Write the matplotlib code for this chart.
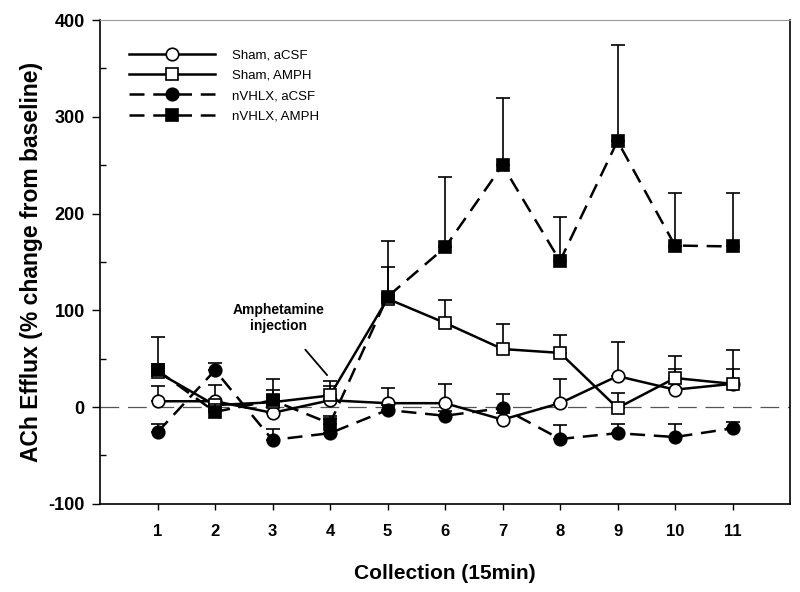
import numpy as np
import matplotlib
matplotlib.use("Agg")
import matplotlib.pyplot as plt

plt.rcParams['font.family'] = ['Liberation Sans', 'DejaVu Sans']
plt.rcParams['axes.unicode_minus'] = False

# collection number (15 min each)
x = np.arange(1, 12)

# mean values (% change from baseline) and top of the upper error bar
sham_acsf = [6, 6, -6, 7, 4, 4, -13, 4, 32, 18, 24]
sham_acsf_top = [22, 23, 12, 22, 20, 24, -6, 29, 67, 39, 39]

sham_amph = [36, 2, 5, 12, 112, 87, 60, 56, -1, 30, 24]
sham_amph_top = [45, 4, 18, 27, 145, 111, 86, 75, 15, 53, 59]

nvhlx_acsf = [-26, 38, -34, -27, -3, -9, -1, -33, -27, -31, -22]
nvhlx_acsf_top = [-17, 46, -23, -12, 2, -4, 13, -19, -18, -18, -15]

nvhlx_amph = [38, -5, 7, -17, 114, 165, 250, 151, 275, 167, 166]
nvhlx_amph_top = [72, 3, 29, -9, 172, 238, 319, 196, 374, 221, 221]

dash = (0, (6, 3.5))
series = [
    ("Sham, aCSF", sham_acsf, sham_acsf_top, 'o', 'white', '-'),
    ("Sham, AMPH", sham_amph, sham_amph_top, 's', 'white', '-'),
    ("nVHLX, aCSF", nvhlx_acsf, nvhlx_acsf_top, 'o', 'black', dash),
    ("nVHLX, AMPH", nvhlx_amph, nvhlx_amph_top, 's', 'black', dash),
]

fig = plt.figure(figsize=(8, 5.92), dpi=100)
ax = fig.add_axes([0.125, 0.149, 0.8625, 0.817])

# baseline
ax.axhline(0, color='#555555', linewidth=0.9, linestyle=(0, (15, 7)), zorder=1)

z = 2
for name, mean, top, mk, face, ls in series:
    mean = np.array(mean, dtype=float)
    top = np.array(top, dtype=float)
    err = np.clip(top - mean, 0, None)
    ax.errorbar(x, mean, yerr=[np.zeros_like(err), err], fmt='none',
                ecolor='black', elinewidth=1.2, capsize=5, capthick=1.2,
                zorder=z)
    ax.plot(x, mean, color='black', linewidth=1.8, linestyle=ls,
            marker=mk, markersize=9 if mk == 'o' else 8.5,
            markerfacecolor=face, markeredgecolor='black',
            markeredgewidth=1.2, label=name, zorder=z + 0.5)
    z += 1

ax.set_xlim(0, 12)
ax.set_ylim(-100, 400)
ax.set_xticks(x)
ax.set_yticks([-100, 0, 100, 200, 300, 400])
ax.set_yticks(np.arange(-50, 400, 100), minor=True)
ax.tick_params(axis='x', which='major', direction='out', length=4.5,
               width=1, labelsize=12, pad=10)
ax.tick_params(axis='y', which='major', direction='out', length=6,
               width=1, labelsize=13, pad=5)
ax.tick_params(axis='y', which='minor', direction='in', length=4, width=1)
for lab in ax.get_xticklabels() + ax.get_yticklabels():
    lab.set_fontweight('bold')
for side in ['left', 'bottom', 'right']:
    ax.spines[side].set_linewidth(1.2)
ax.spines['top'].set_color('#999999')

ax.set_xlabel("Collection (15min)", fontsize=15, fontweight='bold', labelpad=18)
ax.set_ylabel("ACh Efflux (% change from baseline)", fontsize=16.5,
              fontweight='bold', labelpad=4)

ax.annotate("Amphetamine\ninjection", xy=(3.95, 33), xytext=(3.1, 92),
            ha='center', va='center', fontsize=10, fontweight='bold',
            arrowprops=dict(arrowstyle='-', color='black', linewidth=1.3,
                            shrinkA=13, shrinkB=0))

ax.legend(loc='upper left', bbox_to_anchor=(0.025, 0.965), frameon=False,
          fontsize=9.5, handlelength=6.5, handletextpad=1.3, labelspacing=0.62)

fig.savefig("out.png", dpi=100)
